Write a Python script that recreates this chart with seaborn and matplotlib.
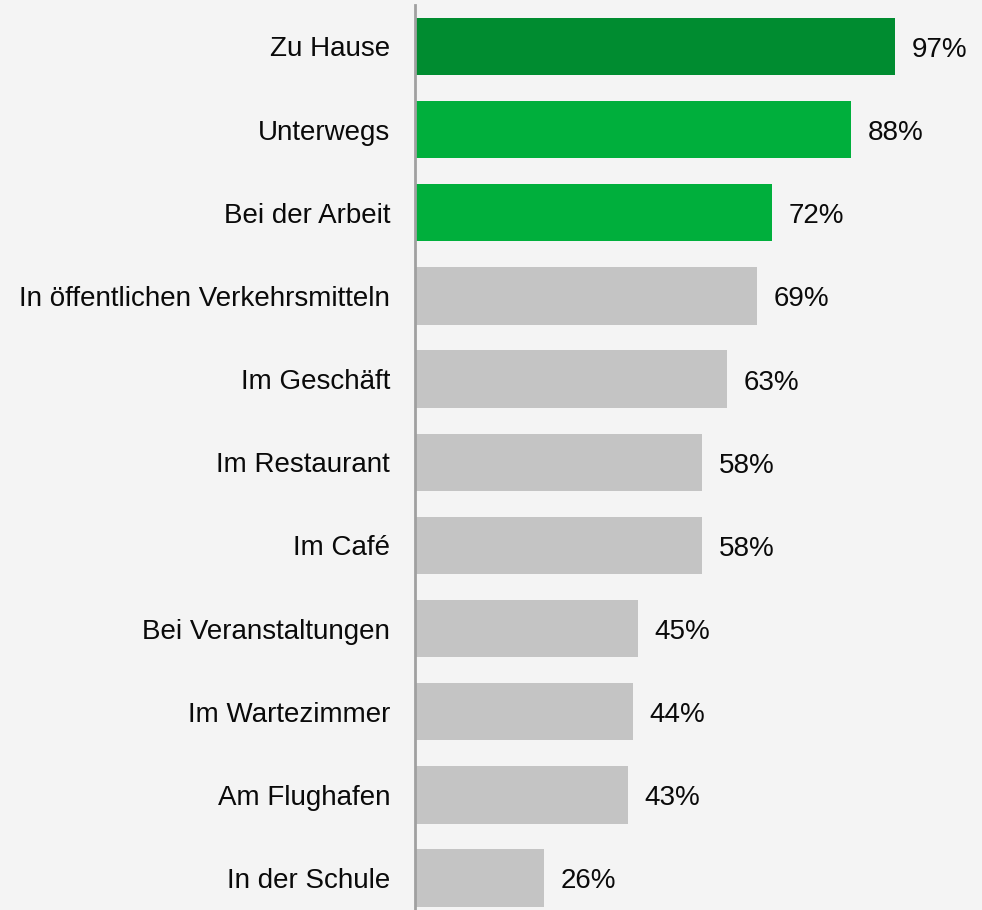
import matplotlib
matplotlib.use("Agg")
import matplotlib.pyplot as plt
import seaborn as sns
import pandas as pd

categories = ["Zu Hause", "Unterwegs", "Bei der Arbeit", "In öffentlichen Verkehrsmitteln",
              "Im Geschäft", "Im Restaurant", "Im Café", "Bei Veranstaltungen",
              "Im Wartezimmer", "Am Flughafen", "In der Schule"]
values = [97, 88, 72, 69, 63, 58, 58, 45, 44, 43, 26]
colors = ["#008C30", "#00AF3C", "#00AF3C", "#C4C4C4", "#C4C4C4", "#C4C4C4",
          "#C4C4C4", "#C4C4C4", "#C4C4C4", "#C4C4C4", "#C4C4C4"]

sns.set_theme(style="white")
plt.rcParams['font.family'] = ['Liberation Sans', 'DejaVu Sans']

df = pd.DataFrame({"cat": categories, "val": values})
bg = "#F4F4F4"
fig = plt.figure(figsize=(9.82, 9.10), dpi=100, facecolor=bg)
ax = fig.add_axes([415/982, 0, 1 - 415/982, 1])
ax.set_facecolor(bg)

sns.barplot(data=df, x="val", y="cat", hue="cat", palette=colors, orient="h",
            width=0.69, legend=False, ax=ax, saturation=1, linewidth=0)

ax.set_xlim(0, 114.5)
ax.set_ylim(10.385, -0.559)
ax.set_xlabel("")
ax.set_ylabel("")
ax.set_xticks([])
ax.tick_params(axis="y", length=0, pad=18, labelsize=20, labelcolor="#0A0A0A")
for s in ["top", "right", "bottom"]:
    ax.spines[s].set_visible(False)
ax.spines["left"].set_color("#A0A0A0")
ax.spines["left"].set_linewidth(2)
ax.spines["left"].set_bounds(10.385, -0.5)

for c in ax.containers:
    anns = ax.bar_label(c, labels=[f"{v:.0f}%" for v in c.datavalues], padding=12,
                        fontsize=20, color="#0A0A0A")
    for a in anns:
        a.xyann = (12, -2.5)

fig.savefig("out.png", dpi=100, facecolor=bg)
